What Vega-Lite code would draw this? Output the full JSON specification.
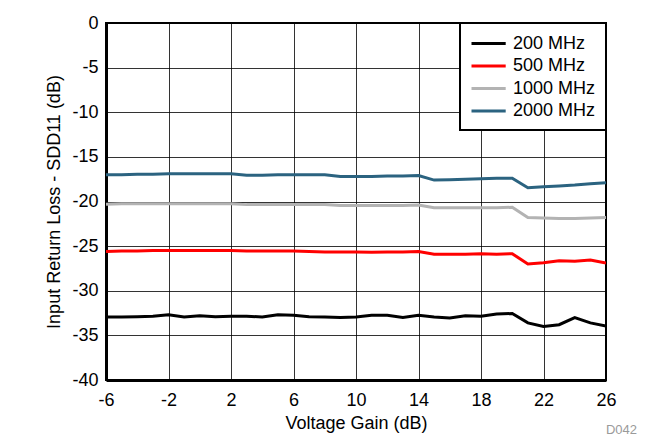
{
  "$schema": "https://vega.github.io/schema/vega-lite/v6.json",
  "autosize": {"type": "none"},
  "padding": {"left": 106, "top": 23, "right": 52, "bottom": 56},
  "width": 500,
  "height": 357,
  "config": {
    "font": "Liberation Sans",
    "view": {"stroke": "black", "strokeWidth": 2},
    "axis": {"labelFont": "Liberation Sans", "titleFont": "Liberation Sans", "labelColor": "black", "titleColor": "black", "titleFontWeight": "normal"},
    "legend": {"strokeColor": "black", "strokeWidth": 2, "fillColor": "white", "labelFont": "Liberation Sans"}
  },
  "title": {"text": "D042", "orient": "bottom", "anchor": "end", "font": "Liberation Sans", "fontSize": 13, "fontWeight": "normal", "color": "#9a9a9a", "dx": 21, "offset": -8},
  "data": {
    "values": [
      {"f": "200 MHz", "g": -6, "v": -32.95}, {"f": "200 MHz", "g": -5, "v": -32.95}, {"f": "200 MHz", "g": -4, "v": -32.9}, {"f": "200 MHz", "g": -3, "v": -32.85},
      {"f": "200 MHz", "g": -2, "v": -32.7}, {"f": "200 MHz", "g": -1, "v": -32.95}, {"f": "200 MHz", "g": 0, "v": -32.8}, {"f": "200 MHz", "g": 1, "v": -32.9},
      {"f": "200 MHz", "g": 2, "v": -32.85}, {"f": "200 MHz", "g": 3, "v": -32.85}, {"f": "200 MHz", "g": 4, "v": -32.95}, {"f": "200 MHz", "g": 5, "v": -32.7},
      {"f": "200 MHz", "g": 6, "v": -32.75}, {"f": "200 MHz", "g": 7, "v": -32.9}, {"f": "200 MHz", "g": 8, "v": -32.95}, {"f": "200 MHz", "g": 9, "v": -33.0},
      {"f": "200 MHz", "g": 10, "v": -32.95}, {"f": "200 MHz", "g": 11, "v": -32.75}, {"f": "200 MHz", "g": 12, "v": -32.75}, {"f": "200 MHz", "g": 13, "v": -33.0},
      {"f": "200 MHz", "g": 14, "v": -32.75}, {"f": "200 MHz", "g": 15, "v": -32.95}, {"f": "200 MHz", "g": 16, "v": -33.05}, {"f": "200 MHz", "g": 17, "v": -32.8},
      {"f": "200 MHz", "g": 18, "v": -32.85}, {"f": "200 MHz", "g": 19, "v": -32.6}, {"f": "200 MHz", "g": 20, "v": -32.55}, {"f": "200 MHz", "g": 21, "v": -33.6},
      {"f": "200 MHz", "g": 22, "v": -34.0}, {"f": "200 MHz", "g": 23, "v": -33.8}, {"f": "200 MHz", "g": 24, "v": -33.0}, {"f": "200 MHz", "g": 25, "v": -33.6},
      {"f": "200 MHz", "g": 26, "v": -33.95},
      {"f": "500 MHz", "g": -6, "v": -25.6}, {"f": "500 MHz", "g": -5, "v": -25.55}, {"f": "500 MHz", "g": -4, "v": -25.55}, {"f": "500 MHz", "g": -3, "v": -25.5},
      {"f": "500 MHz", "g": -2, "v": -25.5}, {"f": "500 MHz", "g": -1, "v": -25.5}, {"f": "500 MHz", "g": 0, "v": -25.5}, {"f": "500 MHz", "g": 1, "v": -25.5},
      {"f": "500 MHz", "g": 2, "v": -25.5}, {"f": "500 MHz", "g": 3, "v": -25.55}, {"f": "500 MHz", "g": 4, "v": -25.55}, {"f": "500 MHz", "g": 5, "v": -25.55},
      {"f": "500 MHz", "g": 6, "v": -25.55}, {"f": "500 MHz", "g": 7, "v": -25.6}, {"f": "500 MHz", "g": 8, "v": -25.65}, {"f": "500 MHz", "g": 9, "v": -25.65},
      {"f": "500 MHz", "g": 10, "v": -25.65}, {"f": "500 MHz", "g": 11, "v": -25.7}, {"f": "500 MHz", "g": 12, "v": -25.65}, {"f": "500 MHz", "g": 13, "v": -25.65},
      {"f": "500 MHz", "g": 14, "v": -25.6}, {"f": "500 MHz", "g": 15, "v": -25.9}, {"f": "500 MHz", "g": 16, "v": -25.9}, {"f": "500 MHz", "g": 17, "v": -25.9},
      {"f": "500 MHz", "g": 18, "v": -25.85}, {"f": "500 MHz", "g": 19, "v": -25.9}, {"f": "500 MHz", "g": 20, "v": -25.85}, {"f": "500 MHz", "g": 21, "v": -27.0},
      {"f": "500 MHz", "g": 22, "v": -26.85}, {"f": "500 MHz", "g": 23, "v": -26.65}, {"f": "500 MHz", "g": 24, "v": -26.7}, {"f": "500 MHz", "g": 25, "v": -26.55},
      {"f": "500 MHz", "g": 26, "v": -26.9},
      {"f": "1000 MHz", "g": -6, "v": -20.3}, {"f": "1000 MHz", "g": -5, "v": -20.25}, {"f": "1000 MHz", "g": -4, "v": -20.25}, {"f": "1000 MHz", "g": -3, "v": -20.25},
      {"f": "1000 MHz", "g": -2, "v": -20.25}, {"f": "1000 MHz", "g": -1, "v": -20.25}, {"f": "1000 MHz", "g": 0, "v": -20.25}, {"f": "1000 MHz", "g": 1, "v": -20.25},
      {"f": "1000 MHz", "g": 2, "v": -20.25}, {"f": "1000 MHz", "g": 3, "v": -20.35}, {"f": "1000 MHz", "g": 4, "v": -20.35}, {"f": "1000 MHz", "g": 5, "v": -20.35},
      {"f": "1000 MHz", "g": 6, "v": -20.35}, {"f": "1000 MHz", "g": 7, "v": -20.35}, {"f": "1000 MHz", "g": 8, "v": -20.35}, {"f": "1000 MHz", "g": 9, "v": -20.45},
      {"f": "1000 MHz", "g": 10, "v": -20.45}, {"f": "1000 MHz", "g": 11, "v": -20.45}, {"f": "1000 MHz", "g": 12, "v": -20.45}, {"f": "1000 MHz", "g": 13, "v": -20.45},
      {"f": "1000 MHz", "g": 14, "v": -20.4}, {"f": "1000 MHz", "g": 15, "v": -20.7}, {"f": "1000 MHz", "g": 16, "v": -20.7}, {"f": "1000 MHz", "g": 17, "v": -20.7},
      {"f": "1000 MHz", "g": 18, "v": -20.7}, {"f": "1000 MHz", "g": 19, "v": -20.7}, {"f": "1000 MHz", "g": 20, "v": -20.65}, {"f": "1000 MHz", "g": 21, "v": -21.8},
      {"f": "1000 MHz", "g": 22, "v": -21.85}, {"f": "1000 MHz", "g": 23, "v": -21.9}, {"f": "1000 MHz", "g": 24, "v": -21.9}, {"f": "1000 MHz", "g": 25, "v": -21.85},
      {"f": "1000 MHz", "g": 26, "v": -21.8},
      {"f": "2000 MHz", "g": -6, "v": -17.0}, {"f": "2000 MHz", "g": -5, "v": -17.0}, {"f": "2000 MHz", "g": -4, "v": -16.95}, {"f": "2000 MHz", "g": -3, "v": -16.95},
      {"f": "2000 MHz", "g": -2, "v": -16.9}, {"f": "2000 MHz", "g": -1, "v": -16.9}, {"f": "2000 MHz", "g": 0, "v": -16.9}, {"f": "2000 MHz", "g": 1, "v": -16.9},
      {"f": "2000 MHz", "g": 2, "v": -16.9}, {"f": "2000 MHz", "g": 3, "v": -17.05}, {"f": "2000 MHz", "g": 4, "v": -17.05}, {"f": "2000 MHz", "g": 5, "v": -17.0},
      {"f": "2000 MHz", "g": 6, "v": -17.0}, {"f": "2000 MHz", "g": 7, "v": -17.0}, {"f": "2000 MHz", "g": 8, "v": -17.0}, {"f": "2000 MHz", "g": 9, "v": -17.2},
      {"f": "2000 MHz", "g": 10, "v": -17.2}, {"f": "2000 MHz", "g": 11, "v": -17.2}, {"f": "2000 MHz", "g": 12, "v": -17.15}, {"f": "2000 MHz", "g": 13, "v": -17.15},
      {"f": "2000 MHz", "g": 14, "v": -17.1}, {"f": "2000 MHz", "g": 15, "v": -17.6}, {"f": "2000 MHz", "g": 16, "v": -17.55}, {"f": "2000 MHz", "g": 17, "v": -17.5},
      {"f": "2000 MHz", "g": 18, "v": -17.45}, {"f": "2000 MHz", "g": 19, "v": -17.4}, {"f": "2000 MHz", "g": 20, "v": -17.4}, {"f": "2000 MHz", "g": 21, "v": -18.45},
      {"f": "2000 MHz", "g": 22, "v": -18.35}, {"f": "2000 MHz", "g": 23, "v": -18.25}, {"f": "2000 MHz", "g": 24, "v": -18.15}, {"f": "2000 MHz", "g": 25, "v": -18.0},
      {"f": "2000 MHz", "g": 26, "v": -17.9}
    ]
  },
  "mark": {"type": "line", "strokeWidth": 3, "clip": true},
  "encoding": {
    "x": {
      "field": "g", "type": "quantitative",
      "scale": {"domain": [-6, 26], "nice": false, "zero": false},
      "axis": {
        "title": "Voltage Gain (dB)", "values": [-6, -2, 2, 6, 10, 14, 18, 22, 26],
        "labelExpr": "'' + datum.value",
        "labelFontSize": 18, "titleFontSize": 18, "ticks": false, "labelPadding": 11, "titlePadding": 5,
        "grid": true, "gridColor": "black", "gridWidth": 1, "gridOpacity": 0.8,
        "domainColor": "black", "domainWidth": 3, "labelFlush": false
      }
    },
    "y": {
      "field": "v", "type": "quantitative",
      "scale": {"domain": [-40, 0], "nice": false, "zero": false},
      "axis": {
        "title": "Input Return Loss - SDD11 (dB)", "values": [-40, -35, -30, -25, -20, -15, -10, -5, 0],
        "labelExpr": "'' + datum.value",
        "labelFontSize": 18, "titleFontSize": 18, "ticks": false, "labelPadding": 8, "titlePadding": 8,
        "grid": true, "gridColor": "black", "gridWidth": 1, "gridOpacity": 0.8,
        "domainColor": "black", "domainWidth": 3, "labelFlush": false
      }
    },
    "color": {
      "field": "f", "type": "nominal",
      "scale": {"domain": ["200 MHz", "500 MHz", "1000 MHz", "2000 MHz"], "range": ["#000000", "#ff0000", "#b3b3b3", "#2b6380"]},
      "legend": {
        "title": null, "orient": "top-right", "offset": 0,
        "strokeColor": "black", "fillColor": "white",
        "padding": 10, "symbolType": "M-1,0H2.8", "symbolStrokeWidth": 3, "symbolSize": 324,
        "labelFontSize": 18, "labelColor": "black", "labelOffset": 22, "rowPadding": 2.5, "labelLimit": 200
      }
    }
  }
}
